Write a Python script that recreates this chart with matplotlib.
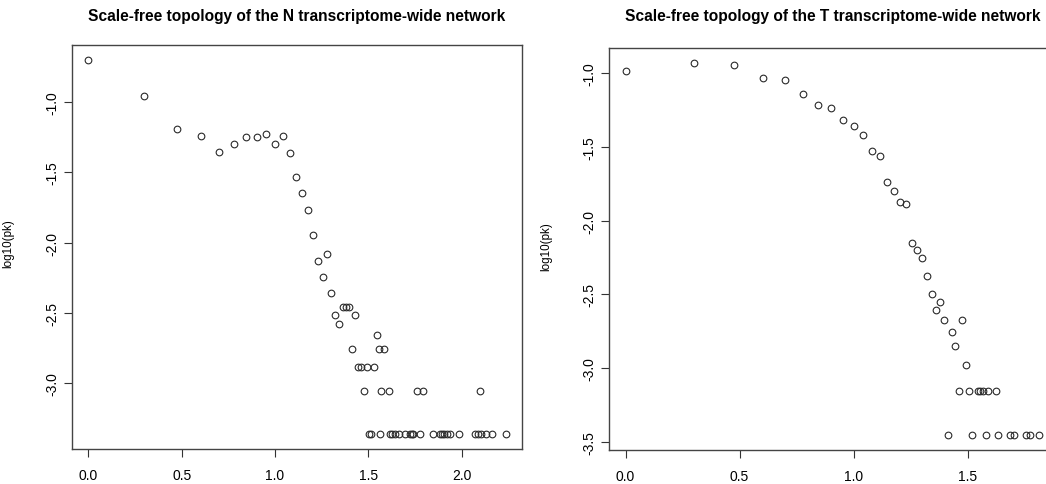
import numpy as np
import matplotlib
matplotlib.use("Agg")
import matplotlib.pyplot as plt

plt.rcParams['font.family'] = ['Liberation Sans', 'DejaVu Sans']

# N network: log10(k) vs log10(p(k))
n_logk = [0.000, 0.301, 0.477, 0.602, 0.699, 0.778, 0.845, 0.903, 0.954, 1.000,
          1.041, 1.079, 1.114, 1.146, 1.176, 1.204, 1.230, 1.255, 1.279, 1.301,
          1.322, 1.342, 1.362, 1.380, 1.398, 1.415, 1.431, 1.447, 1.462, 1.477,
          1.491, 1.505, 1.515, 1.531, 1.544, 1.556, 1.563, 1.568, 1.586, 1.613,
          1.615, 1.627, 1.643, 1.663, 1.699, 1.724, 1.732, 1.740, 1.763, 1.776,
          1.792, 1.845, 1.886, 1.892, 1.903, 1.924, 1.940, 1.988, 2.072, 2.086,
          2.100, 2.104, 2.130, 2.162, 2.236]
n_logpk = [-0.696, -0.953, -1.190, -1.242, -1.352, -1.295, -1.249, -1.249, -1.226, -1.295,
           -1.240, -1.364, -1.535, -1.643, -1.770, -1.946, -2.129, -2.245, -2.081, -2.359,
           -2.514, -2.580, -2.457, -2.457, -2.457, -2.758, -2.514, -2.883, -2.883, -3.059,
           -2.883, -3.361, -3.361, -2.883, -2.661, -2.758, -3.361, -3.059, -2.758, -3.059,
           -3.361, -3.361, -3.361, -3.361, -3.361, -3.361, -3.361, -3.361, -3.059, -3.361,
           -3.059, -3.361, -3.361, -3.361, -3.361, -3.361, -3.361, -3.361, -3.361, -3.361,
           -3.059, -3.361, -3.361, -3.361, -3.361]

# T network
t_logk = [0.000, 0.301, 0.477, 0.602, 0.699, 0.778, 0.845, 0.903, 0.954, 1.000,
          1.041, 1.079, 1.114, 1.146, 1.176, 1.204, 1.230, 1.255, 1.279, 1.301,
          1.322, 1.342, 1.362, 1.380, 1.398, 1.415, 1.431, 1.447, 1.462, 1.477,
          1.491, 1.505, 1.519, 1.544, 1.556, 1.568, 1.580, 1.591, 1.623, 1.633,
          1.686, 1.702, 1.756, 1.775, 1.814]
t_logpk = [-0.988, -0.934, -0.944, -1.034, -1.044, -1.142, -1.219, -1.235, -1.321, -1.359,
           -1.418, -1.529, -1.563, -1.740, -1.801, -1.875, -1.886, -2.153, -2.200, -2.252,
           -2.376, -2.500, -2.609, -2.553, -2.677, -3.454, -2.756, -2.853, -3.154, -2.677,
           -2.978, -3.154, -3.454, -3.154, -3.154, -3.154, -3.454, -3.154, -3.154, -3.454,
           -3.454, -3.454, -3.454, -3.454, -3.454]

titles = ["Scale-free topology of the N transcriptome-wide network",
          "Scale-free topology of the T transcriptome-wide network"]


def r_lim(v):
    # R style 4% padding
    lo, hi = min(v), max(v)
    d = (hi - lo) * 0.04
    return lo - d, hi + d


fig = plt.figure(figsize=(10.46, 4.85), dpi=100)
ax_l = fig.add_axes([0.06845, 0.0728, 0.4310, 0.8332])
ax_r = fig.add_axes([0.5822, 0.0703, 0.4271, 0.8278])

panels = [(ax_l, n_logk, n_logpk, titles[0], np.arange(0, 2.01, 0.5), np.arange(-3.0, -0.99, 0.5)),
          (ax_r, t_logk, t_logpk, titles[1], np.arange(0, 1.51, 0.5), np.arange(-3.5, -0.99, 0.5))]

for ax, x, y, title, xt, yt in panels:
    ax.plot(x, y, 'o', mfc='none', mec='#2a2a2a', ms=4.8, mew=0.8, clip_on=False)
    ax.set_xlim(*r_lim(x))
    ax.set_ylim(*r_lim(y))
    ax.set_xticks(xt)
    ax.set_xticklabels(["%.1f" % v for v in xt])
    ax.set_yticks(yt)
    ax.set_yticklabels(["%.1f" % v for v in yt])
    ax.tick_params(axis='both', length=6, width=0.8, color='#333333', labelsize=10)
    ax.tick_params(axis='x', pad=8)
    ax.tick_params(axis='y', pad=3, labelrotation=90)
    for lab in ax.get_yticklabels():
        lab.set_va('center')
    for s in ax.spines.values():
        s.set_color('#444444')
        s.set_linewidth(1.0)
    ax.set_ylabel("log10(pk)", fontsize=8.4)
    ax.yaxis.set_label_coords(-57 / 450.0, 0.51)
    pos = ax.get_position()
    fig.text((pos.x0 + pos.x1) / 2, 0.966, title, ha='center', va='center',
             fontsize=11.2, fontweight='bold')

plt.savefig("out.png", dpi=100, facecolor='w')
plt.close()
